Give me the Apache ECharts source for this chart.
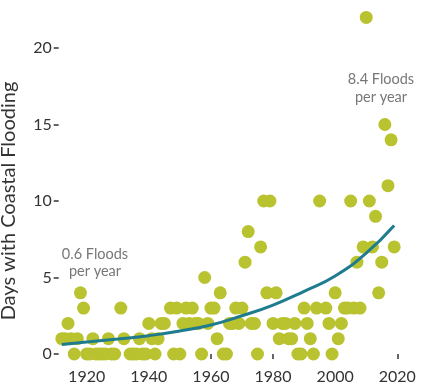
<!DOCTYPE html>
<html>
<head>
<meta charset="utf-8">
<script src="https://cdn.jsdelivr.net/npm/echarts@6/dist/echarts.min.js"></script>
<style>
html,body{margin:0;padding:0;background:#fff;}
#chart{width:423px;height:390px;}
</style>
</head>
<body>
<div id="chart"></div>
<script>
const years = [1912,1913,1914,1915,1916,1917,1918,1919,1920,1921,1922,1923,1924,1925,1926,1927,1928,1929,1931,1932,1934,1935,1936,1937,1938,1939,1940,1941,1942,1943,1944,1945,1947,1948,1949,1950,1951,1952,1953,1954,1955,1956,1957,1958,1959,1960,1961,1962,1963,1964,1965,1966,1967,1968,1969,1970,1971,1972,1973,1974,1975,1976,1977,1978,1979,1980,1981,1982,1983,1984,1985,1986,1987,1988,1989,1990,1991,1992,1993,1994,1995,1997,1998,1999,2000,2001,2002,2003,2004,2005,2006,2007,2008,2009,2010,2011,2012,2013,2014,2015,2016,2017,2018,2019];
const floodDays = [1,1,2,1,0,1,4,3,0,0,1,0,0,0,0,1,0,0,3,1,0,0,0,1,0,0,2,1,0,1,2,2,3,0,3,0,2,3,2,3,2,2,0,5,2,3,3,1,4,0,0,2,2,3,2,3,6,8,2,2,0,7,10,4,10,2,4,1,2,2,1,1,2,0,0,3,2,1,0,3,10,3,2,0,4,1,2,3,3,10,3,6,3,7,22,10,7,9,4,6,15,11,14,7];

// Trend line
const trendYears = [1912,1920,1930,1940,1950,1960,1970,1980,1990,2000,2010,2019];
const trendValues = [0.62,0.78,0.98,1.2,1.5,1.9,2.5,3.2,4.1,5.1,6.6,8.4];

const xTicks = [1920,1940,1960,1980,2000,2020];
const yTicks = [0,5,10,15,20];

const leftNote = ['0.6 Floods','per year'];
const rightNote = ['8.4 Floods','per year'];

const FONT = 'Lato';
const chart = echarts.init(document.getElementById('chart'), null, {renderer:'canvas'});

const scatterData = years.map((y,i)=>[y,floodDays[i]]);
const trendData = trendYears.map((y,i)=>[y,trendValues[i]]);

chart.setOption({
  animation:false,
  backgroundColor:'#fff',
  grid:{left:58.7,right:19.5,top:48,bottom:36,containLabel:false,outerBoundsMode:'none'},
  xAxis:{
    type:'value', min:1911, max:2022, offset:8,
    axisLine:{show:false},
    splitLine:{show:false},
    axisTick:{show:true, length:5, lineStyle:{color:'#333',width:1.5}, customValues:xTicks},
    axisLabel:{color:'#333', fontSize:16, fontFamily:FONT, margin:7, customValues:xTicks, formatter:(v)=>String(v)}
  },
  yAxis:{
    type:'value', min:0, max:20, interval:5,
    name:'Days with Coastal Flooding', nameLocation:'middle', nameGap:40,
    nameTextStyle:{color:'#333', fontSize:20, fontFamily:FONT},
    axisLine:{show:false},
    splitLine:{show:false},
    axisTick:{show:true, length:5, lineStyle:{color:'#333',width:1.5}, customValues:yTicks},
    axisLabel:{color:'#333', fontSize:16, fontFamily:FONT, margin:7, customValues:yTicks}
  },
  series:[
    {
      type:'scatter', data:scatterData, symbolSize:13, clip:false,
      itemStyle:{color:'#b9c22f', opacity:1},
      z:2
    },
    {
      type:'line', data:trendData, smooth:true, showSymbol:false, clip:false,
      lineStyle:{color:'#1f7b8e', width:3},
      z:3
    }
  ],
  graphic:[
    {type:'text', x:95, y:254, style:{text:leftNote[0], fill:'#777', fontSize:14.5, fontFamily:FONT, align:'center', verticalAlign:'middle'}},
    {type:'text', x:95, y:271, style:{text:leftNote[1], fill:'#777', fontSize:14.5, fontFamily:FONT, align:'center', verticalAlign:'middle'}},
    {type:'text', x:381, y:79, style:{text:rightNote[0], fill:'#777', fontSize:14.5, fontFamily:FONT, align:'center', verticalAlign:'middle'}},
    {type:'text', x:381, y:97, style:{text:rightNote[1], fill:'#777', fontSize:14.5, fontFamily:FONT, align:'center', verticalAlign:'middle'}}
  ]
});
</script>
</body>
</html>
